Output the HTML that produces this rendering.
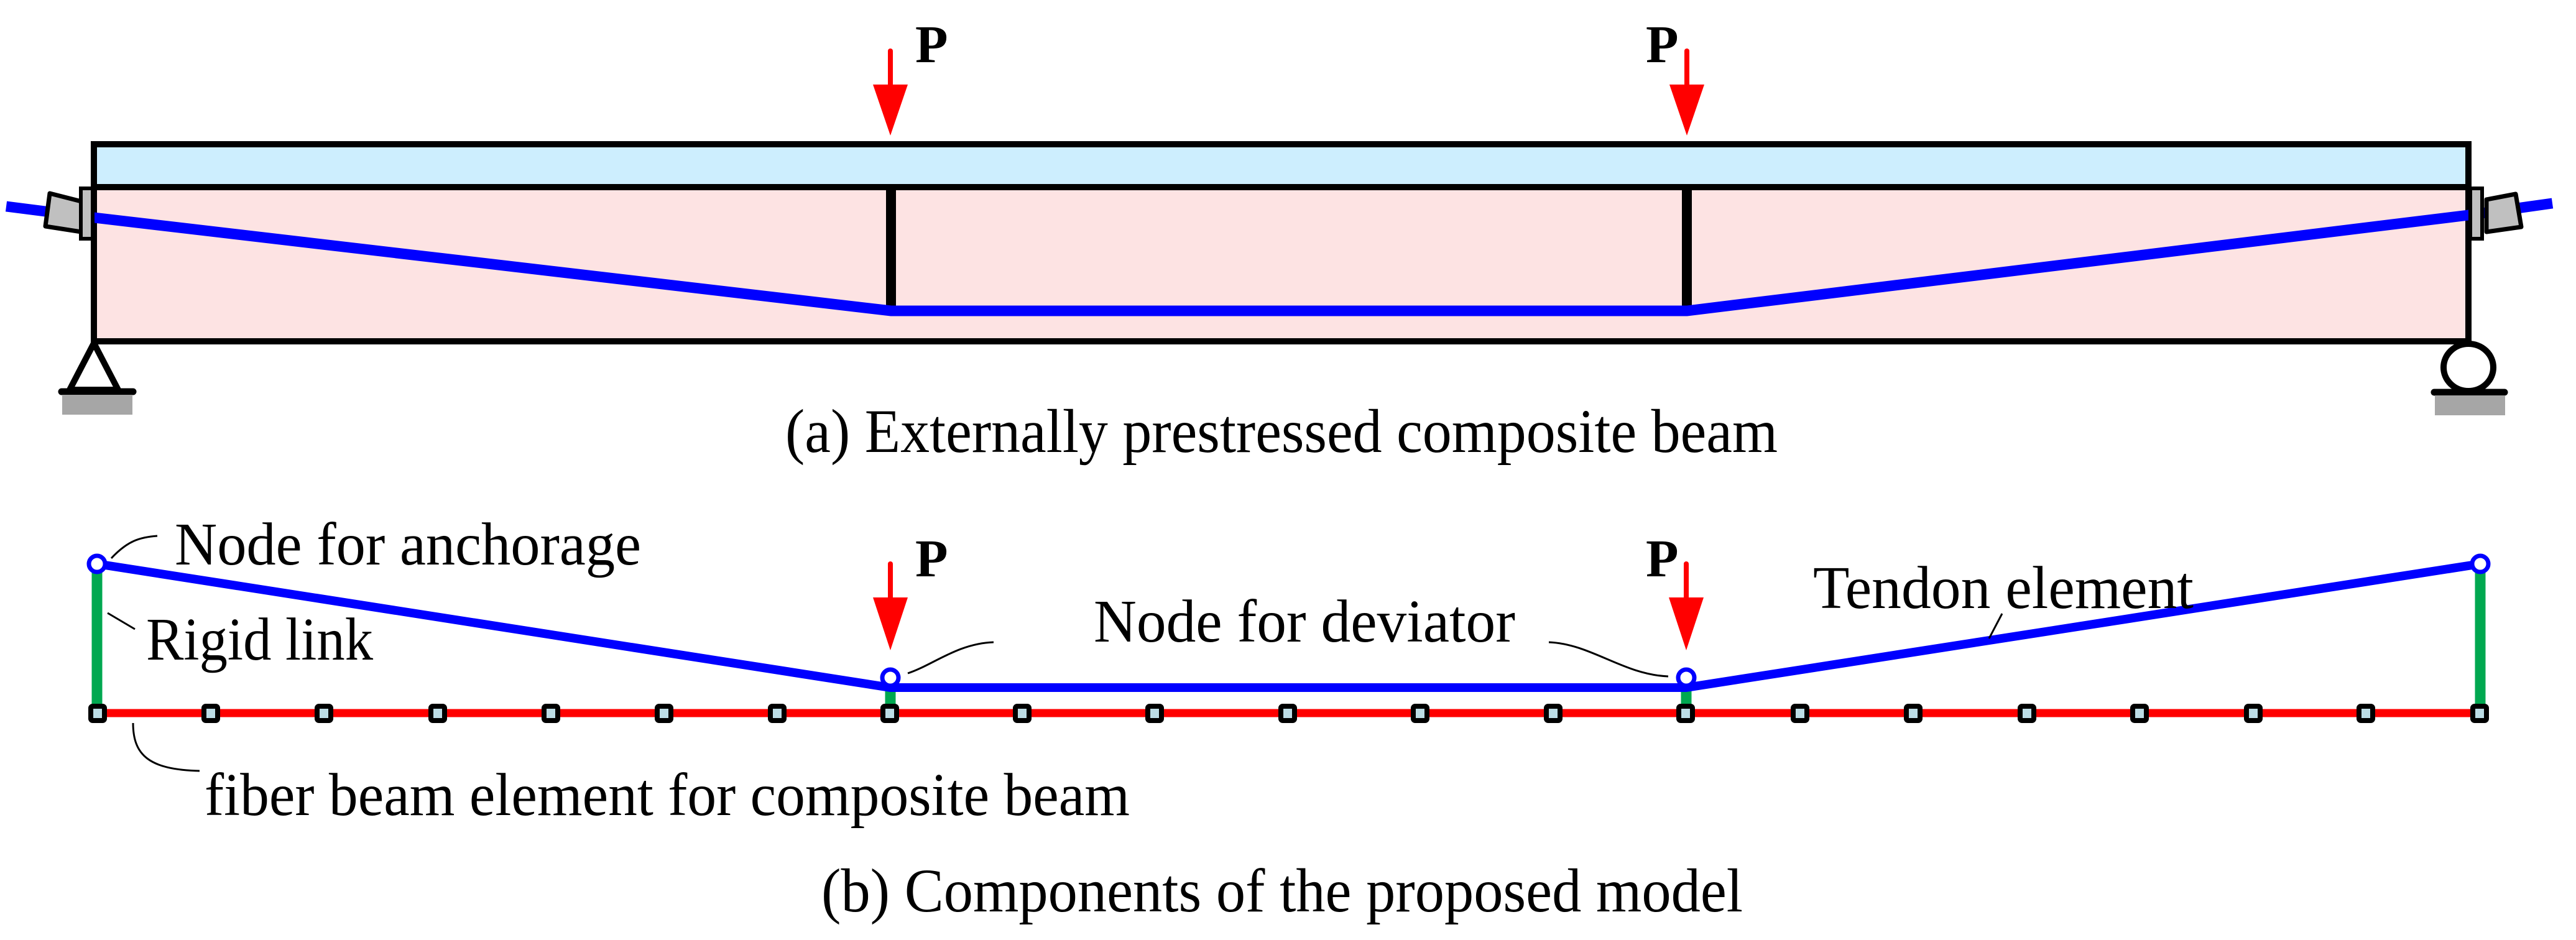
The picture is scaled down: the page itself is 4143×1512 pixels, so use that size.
<!DOCTYPE html>
<html><head><meta charset="utf-8"><style>
html,body{margin:0;padding:0;background:#fff;}
svg{display:block;}
text{font-family:"Liberation Serif",serif;fill:#000;}
</style></head><body>
<svg width="4143" height="1512" viewBox="0 0 4143 1512" xmlns="http://www.w3.org/2000/svg">
<!-- Part (a) -->
<rect x="151" y="232" width="3819" height="69" fill="#cdeefe"/>
<rect x="151" y="301" width="3819" height="248" fill="#fde3e3"/>
<path d="M151,232 H3970 V549 H151 Z" fill="none" stroke="#000" stroke-width="10"/>
<line x1="151" y1="301" x2="3970" y2="301" stroke="#000" stroke-width="10"/>
<line x1="1433" y1="301" x2="1433" y2="500" stroke="#000" stroke-width="16"/>
<line x1="2713" y1="301" x2="2713" y2="500" stroke="#000" stroke-width="16"/>
<polyline points="10,332 151,350 1433,500 2713,500 3970,346 4105,327" fill="none" stroke="#0000ff" stroke-width="17"/>
<polygon points="80,311 131,324 131,373 73,364" fill="#c0c0c0" stroke="#000" stroke-width="7" stroke-linejoin="round"/>
<rect x="130" y="303" width="19" height="81" fill="#c0c0c0" stroke="#000" stroke-width="6"/>
<polygon points="3999,321 4046,312 4055,365 3999,373" fill="#c0c0c0" stroke="#000" stroke-width="7" stroke-linejoin="round"/>
<rect x="3973" y="303" width="19" height="81" fill="#c0c0c0" stroke="#000" stroke-width="6"/>
<polygon points="151,552 112,627 190,627" fill="none" stroke="#000" stroke-width="10" stroke-linejoin="round"/>
<line x1="99" y1="630" x2="214" y2="630" stroke="#000" stroke-width="11" stroke-linecap="round"/>
<rect x="100" y="635" width="113" height="32" fill="#a6a6a6"/>
<ellipse cx="3970" cy="591" rx="40" ry="38" fill="#fff" stroke="#000" stroke-width="10"/>
<line x1="3915" y1="631" x2="4028" y2="631" stroke="#000" stroke-width="11" stroke-linecap="round"/>
<rect x="3916" y="636" width="113" height="32" fill="#a6a6a6"/>
<line x1="1432" y1="82" x2="1432" y2="140" stroke="#f00" stroke-width="8" stroke-linecap="round"/>
<polygon points="1404,136 1460,136 1432,218" fill="#f00"/>
<line x1="2713" y1="82" x2="2713" y2="140" stroke="#f00" stroke-width="8" stroke-linecap="round"/>
<polygon points="2685,136 2741,136 2713,218" fill="#f00"/>
<text x="1472" y="100" font-size="86" font-weight="bold">P</text>
<text x="2647" y="100" font-size="86" font-weight="bold">P</text>
<text x="1263" y="727" font-size="100" textLength="1596" lengthAdjust="spacingAndGlyphs">(a) Externally prestressed composite beam</text>

<!-- Part (b) -->
<line x1="156" y1="907" x2="156" y2="1147" stroke="#00a850" stroke-width="17"/>
<line x1="3989" y1="907" x2="3989" y2="1147" stroke="#00a850" stroke-width="17"/>
<line x1="1432" y1="1090" x2="1432" y2="1147" stroke="#00a850" stroke-width="17"/>
<line x1="2712" y1="1090" x2="2712" y2="1147" stroke="#00a850" stroke-width="17"/>
<line x1="156" y1="1147" x2="3989" y2="1147" stroke="#f00" stroke-width="13"/>
<polyline points="156,907 1432,1106 2712,1106 3989,907" fill="none" stroke="#0000ff" stroke-width="14"/>
<g fill="#fff" stroke="#0000ff" stroke-width="7">
<circle cx="156" cy="907" r="13"/>
<circle cx="3989" cy="907" r="13"/>
<circle cx="1432" cy="1090" r="13"/>
<circle cx="2712" cy="1090" r="13"/>
</g>
<g fill="#bcdde6" stroke="#000" stroke-width="8">
<rect x="146" y="1136" width="22" height="23" rx="3"/>
<rect x="328" y="1136" width="22" height="23" rx="3"/>
<rect x="510" y="1136" width="22" height="23" rx="3"/>
<rect x="693" y="1136" width="22" height="23" rx="3"/>
<rect x="875" y="1136" width="22" height="23" rx="3"/>
<rect x="1057" y="1136" width="22" height="23" rx="3"/>
<rect x="1239" y="1136" width="22" height="23" rx="3"/>
<rect x="1420" y="1136" width="22" height="23" rx="3"/>
<rect x="1633" y="1136" width="22" height="23" rx="3"/>
<rect x="1846" y="1136" width="22" height="23" rx="3"/>
<rect x="2060" y="1136" width="22" height="23" rx="3"/>
<rect x="2273" y="1136" width="22" height="23" rx="3"/>
<rect x="2487" y="1136" width="22" height="23" rx="3"/>
<rect x="2700" y="1136" width="22" height="23" rx="3"/>
<rect x="2884" y="1136" width="22" height="23" rx="3"/>
<rect x="3066" y="1136" width="22" height="23" rx="3"/>
<rect x="3249" y="1136" width="22" height="23" rx="3"/>
<rect x="3430" y="1136" width="22" height="23" rx="3"/>
<rect x="3613" y="1136" width="22" height="23" rx="3"/>
<rect x="3794" y="1136" width="22" height="23" rx="3"/>
<rect x="3977" y="1136" width="22" height="23" rx="3"/>
</g>
<line x1="1432" y1="907" x2="1432" y2="963" stroke="#f00" stroke-width="8" stroke-linecap="round"/>
<polygon points="1404,961 1460,961 1432,1046" fill="#f00"/>
<line x1="2712" y1="907" x2="2712" y2="963" stroke="#f00" stroke-width="8" stroke-linecap="round"/>
<polygon points="2684,961 2740,961 2712,1046" fill="#f00"/>
<text x="1472" y="927" font-size="86" font-weight="bold">P</text>
<text x="2647" y="927" font-size="86" font-weight="bold">P</text>
<g fill="none" stroke="#000" stroke-width="3">
<path d="M179,898 C205,870 225,864 253,862"/>
<path d="M173,986 L217,1012"/>
<path d="M214,1163 C214,1215 240,1238 321,1240"/>
<path d="M1460,1083 C1500,1070 1540,1035 1598,1033"/>
<path d="M2491,1033 C2560,1036 2610,1085 2683,1088"/>
<path d="M3220,987 L3199,1027"/>
</g>
<text x="281" y="908" font-size="98" textLength="750" lengthAdjust="spacingAndGlyphs">Node for anchorage</text>
<text x="235" y="1061" font-size="98" textLength="365" lengthAdjust="spacingAndGlyphs">Rigid link</text>
<text x="329" y="1311" font-size="98" textLength="1488" lengthAdjust="spacingAndGlyphs">fiber beam element for composite beam</text>
<text x="1759" y="1032" font-size="98" textLength="678" lengthAdjust="spacingAndGlyphs">Node for deviator</text>
<text x="2916" y="978" font-size="98" textLength="612" lengthAdjust="spacingAndGlyphs">Tendon element</text>
<text x="1321" y="1466" font-size="100" textLength="1482" lengthAdjust="spacingAndGlyphs">(b) Components of the proposed model</text>
</svg>
</body></html>
